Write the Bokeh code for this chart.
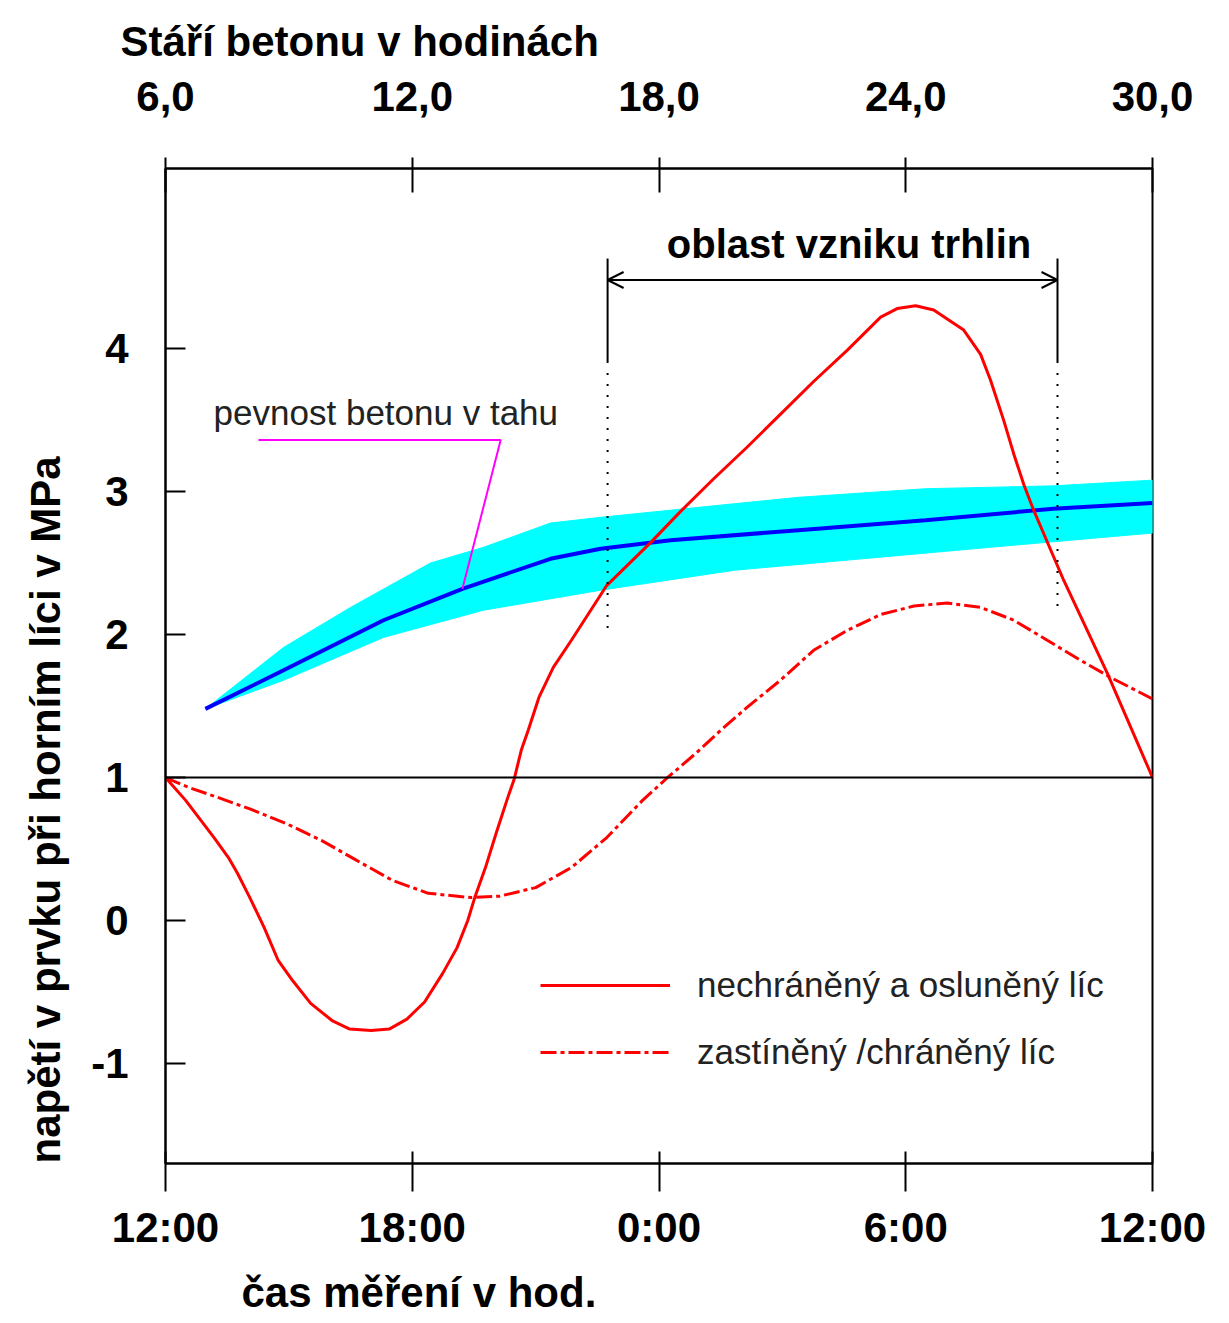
from bokeh.plotting import figure
from bokeh.models import (Range1d, LinearAxis, FixedTicker, Label, Span, Arrow,
                          OpenHead, Legend, LegendItem, Title)
from bokeh.embed import file_html
from bokeh.resources import INLINE

# ---- data (x = hours since 12:00 of the measurement day) ----
x_ticks = [0, 6, 12, 18, 24]
time_labels = ["12:00", "18:00", "0:00", "6:00", "12:00"]
age_labels = ["6,0", "12,0", "18,0", "24,0", "30,0"]
y_ticks = [-1, 0, 1, 2, 3, 4]
y_labels = ["-1", "0", "1", "2", "3", "4"]

# unprotected, sunlit face
sun_t = [0, 0.49, 1.18, 1.53, 1.75, 2.05, 2.40, 2.74, 3.09, 3.53, 4.05, 4.48, 5.00, 5.44,
         5.87, 6.30, 6.74, 7.09, 7.35, 7.52, 7.78, 8.04, 8.30, 8.48, 8.65, 8.82, 9.08, 9.43,
         9.87, 10.72, 11.82, 12.52, 13.33, 14.14, 14.95, 15.76, 16.58, 17.39, 17.79, 18.24,
         18.68, 19.41, 19.82, 20.06, 20.38, 20.63, 20.87, 21.11, 21.84, 22.90, 24.0]
sun_v = [1.00, 0.84, 0.58, 0.44, 0.33, 0.16, -0.05, -0.28, -0.42, -0.58, -0.70, -0.76, -0.77,
         -0.76, -0.69, -0.57, -0.37, -0.19, 0.0, 0.16, 0.37, 0.61, 0.84, 0.99, 1.19, 1.33,
         1.56, 1.77, 1.96, 2.34, 2.65, 2.86, 3.09, 3.31, 3.54, 3.77, 3.99, 4.22, 4.28, 4.30,
         4.27, 4.13, 3.96, 3.78, 3.50, 3.26, 3.05, 2.87, 2.38, 1.73, 1.00]

# shaded / protected face
shade_t = [0, 0.57, 1.18, 2.05, 2.92, 3.79, 4.65, 5.52, 6.39, 7.43, 8.13, 9.00, 9.87, 10.73,
           11.60, 12.21, 12.90, 13.50, 14.14, 14.95, 15.76, 16.58, 17.39, 18.20, 19.01,
           19.82, 20.63, 21.44, 22.25, 22.98, 24.0]
shade_v = [1.00, 0.93, 0.87, 0.78, 0.68, 0.56, 0.42, 0.28, 0.19, 0.16, 0.17, 0.23, 0.37, 0.58,
           0.84, 1.00, 1.17, 1.33, 1.49, 1.68, 1.89, 2.03, 2.14, 2.20, 2.22, 2.19, 2.10, 1.96,
           1.82, 1.70, 1.55]

# tensile strength of concrete: mean and band
str_t = [0.97, 2.87, 5.30, 7.22, 9.36, 10.58, 12.28, 15.39, 18.48, 21.59, 24.0]
str_v = [1.48, 1.75, 2.10, 2.32, 2.53, 2.60, 2.66, 2.73, 2.80, 2.88, 2.92]
up_t = [0.97, 2.87, 4.50, 6.44, 7.73, 9.36, 10.58, 12.28, 15.39, 18.48, 21.59, 24.0]
up_v = [1.48, 1.91, 2.19, 2.50, 2.61, 2.78, 2.82, 2.87, 2.96, 3.02, 3.04, 3.08]
lo_t = [0.97, 2.87, 5.30, 7.73, 10.58, 13.84, 16.95, 20.04, 24.0]
lo_v = [1.48, 1.68, 1.98, 2.17, 2.31, 2.45, 2.53, 2.61, 2.71]

# crack zone (hours)
crack_start, crack_end = 10.75, 21.69

SANS = "'Liberation Sans', Arial, sans-serif"
BIG = "42px"

p = figure(frame_width=987, frame_height=995,
           min_border_left=165, min_border_top=168, min_border_right=62, min_border_bottom=160,
           x_range=Range1d(0, 24), y_range=Range1d(-1.70, 5.26),
           output_backend="svg", toolbar_location=None, x_axis_location="below")
p.grid.visible = False
p.outline_line_color = "black"
p.outline_line_width = 2
p.background_fill_color = "white"
p.border_fill_color = "white"

# top title (age of concrete)
p.title.text = "Stáří betonu v hodinách"
p.title.align = "left"
p.title.offset = -45
p.title.standoff = 28
p.title.text_font = SANS
p.title.text_font_size = BIG
p.title.text_font_style = "bold"
p.title.text_color = "black"


def style_axis(ax, labels, ticks):
    ax.ticker = FixedTicker(ticks=ticks, minor_ticks=[])
    ax.major_label_overrides = {t: l for t, l in zip(ticks, labels)}
    ax.major_label_text_font = SANS
    ax.major_label_text_font_style = "bold"
    ax.major_label_text_font_size = BIG
    ax.major_label_text_color = "black"
    ax.axis_line_color = "black"
    ax.axis_line_width = 2
    ax.major_tick_line_color = "black"
    ax.major_tick_line_width = 2
    ax.minor_tick_line_color = None


bx = p.xaxis[0]
style_axis(bx, time_labels, x_ticks)
bx.major_tick_in = 12
bx.major_tick_out = 28
bx.major_label_standoff = 12

tx = LinearAxis()
style_axis(tx, age_labels, x_ticks)
tx.major_tick_in = 24
tx.major_tick_out = 11
tx.major_label_standoff = 47
p.add_layout(tx, "above")

ly = p.yaxis[0]
style_axis(ly, y_labels, y_ticks)
ly.major_tick_in = 20
ly.major_tick_out = 0
ly.major_label_standoff = 37

# bottom and left titles
p.add_layout(Title(text="čas měření v hod.", align="left", offset=76, standoff=26,
                   text_font=SANS, text_font_size=BIG, text_font_style="bold",
                   text_color="black"), "below")
p.add_layout(Title(text="napětí v prvku při horním líci v MPa", align="left", offset=0,
                   standoff=39, text_font=SANS, text_font_size=BIG, text_font_style="bold",
                   text_color="black"), "left")

# strength band
band_t = up_t + lo_t[::-1]
band_v = up_v + lo_v[::-1]
p.patch(band_t, band_v, fill_color="#00FFFF", line_color="#00FFFF", line_width=1)
p.line(str_t, str_v, line_color="#0000FF", line_width=4)

# baseline at 1 MPa
p.add_layout(Span(location=1, dimension="width", line_color="black", line_width=2))

r_sun = p.line(sun_t, sun_v, line_color="#FF0000", line_width=3)
r_shade = p.line(shade_t, shade_v, line_color="#FF0000", line_width=3, line_dash="16 4 4 4")

# crack zone markers
for xc, ybot in ((crack_start, 2.0), (crack_end, 2.15)):
    p.segment(x0=[xc], y0=[3.90], x1=[xc], y1=[4.63], line_color="black", line_width=2)
    p.segment(x0=[xc], y0=[3.83], x1=[xc], y1=[ybot], line_color="black", line_width=2,
              line_dash="2 9")
p.add_layout(Arrow(x_start=crack_start, y_start=4.48, x_end=crack_end, y_end=4.48,
                   line_color="black", line_width=2,
                   start=OpenHead(size=16, line_color="black", line_width=2),
                   end=OpenHead(size=16, line_color="black", line_width=2)))
p.add_layout(Label(x=(crack_start + crack_end) / 2 + 0.4, y=4.73, text="oblast vzniku trhlin",
                   text_font=SANS, text_font_style="bold", text_font_size="40px",
                   text_align="center", text_baseline="alphabetic", text_color="black"))

# strength annotation
p.line([2.26, 8.15, 7.22], [3.36, 3.36, 2.32], line_color="#FF00FF", line_width=2)
p.add_layout(Label(x=1.17, y=3.55, text="pevnost betonu v tahu", text_font=SANS,
                   text_font_size="35px", text_align="left", text_baseline="alphabetic",
                   text_color="#222222"))

legend = Legend(items=[LegendItem(label="nechráněný a osluněný líc", renderers=[r_sun]),
                       LegendItem(label="zastíněný /chráněný líc", renderers=[r_shade])],
                location=(375, 91), glyph_width=130, glyph_height=40, label_height=40,
                spacing=27, padding=0, margin=0, label_standoff=27,
                label_text_font=SANS, label_text_font_size="35px",
                label_text_color="#222222", background_fill_alpha=0,
                border_line_alpha=0)
p.add_layout(legend)

open("out.html", "w").write(file_html(p, INLINE))
